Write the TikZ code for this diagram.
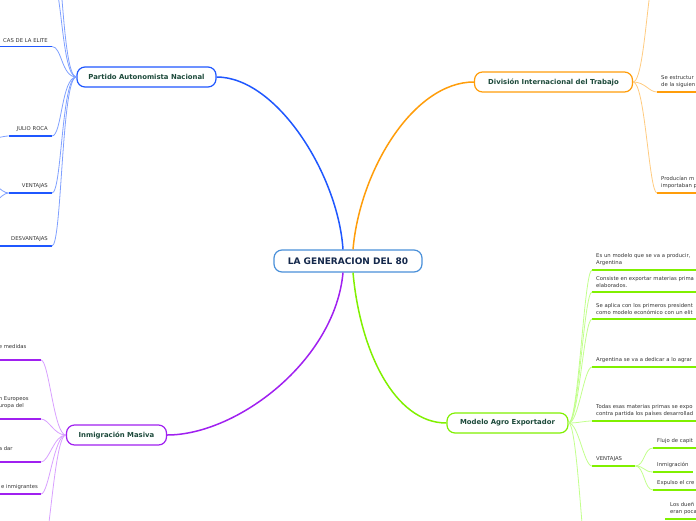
\documentclass[tikz,border=0pt]{standalone}
\usepackage{fontspec}
\setmainfont{DejaVu Sans}
\usepackage{xcolor}
\usepackage{tikz}
\usetikzlibrary{calc}

\definecolor{rootline}{HTML}{4A90D9}
\definecolor{roottext}{HTML}{14284B}
\definecolor{topictext}{HTML}{1D4A3B}
\definecolor{leaftext}{HTML}{333333}
\definecolor{pan}{HTML}{1F57FF}
\definecolor{panlight}{HTML}{7FA0FF}
\definecolor{dit}{HTML}{FF9D0A}
\definecolor{ditlight}{HTML}{FFCB80}
\definecolor{mae}{HTML}{80F000}
\definecolor{maelight}{HTML}{C2FF8C}
\definecolor{inm}{HTML}{A020F0}
\definecolor{inmlight}{HTML}{D8A0FF}

\begin{document}
\begin{tikzpicture}[
  x=1pt, y=-1pt,
  root/.style={draw=rootline, line width=1.2pt, rounded corners=8pt, fill=white,
    minimum width=148pt, minimum height=22pt, text=roottext,
    font=\fontsize{9}{11}\selectfont\bfseries},
  topic/.style={draw=#1, line width=1.2pt, rounded corners=8pt, fill=white,
    minimum height=20pt, text=topictext, font=\fontsize{6.9}{8}\selectfont\bfseries},
  leaf/.style={text=leaftext, font=\fontsize{5.3}{7}\selectfont,
    inner xsep=4pt, inner ysep=4pt, align=left,
    append after command={(\tikzlastnode.south west) edge[draw=#1, line width=1.8pt] (\tikzlastnode.south east)}},
  twig/.style={draw=#1, line width=0.8pt},
  trunk/.style={draw=#1, line width=1.5pt}
]
  \useasboundingbox (0,0) rectangle (696,520);
  \clip (0,0) rectangle (696,520);

  % ----- main topics -----
  \node[root] (gen) at (348,261) {LA GENERACION DEL 80};
  \node[topic=pan, minimum width=139pt] (pan) at (146.5,77) {Partido Autonomista Nacional};
  \node[topic=dit, minimum width=158pt] (dit) at (553.5,82) {División Internacional del Trabajo};
  \node[topic=mae, minimum width=121pt] (mae) at (507.5,423) {Modelo Agro Exportador};
  \node[topic=inm, minimum width=100pt] (inm) at (116.5,435) {Inmigración Masiva};

  % ----- root to topics -----
  \draw[trunk=pan] ([xshift=-5pt]gen.north) .. controls +(-5,-75) and +(60,0) .. (pan.east);
  \draw[trunk=dit] ([xshift=5pt]gen.north) .. controls +(7,-80) and +(-60,0) .. (dit.west);
  \draw[trunk=mae] ([xshift=5pt]gen.south) .. controls +(7,78) and +(-52,0) .. (mae.west);
  \draw[trunk=inm] ([xshift=-5pt]gen.south) .. controls +(-8,88) and +(70,0) .. (inm.east);

  % ----- Partido Autonomista Nacional -----
  \node[leaf=pan, anchor=south east, text width=50pt, align=right] (elite) at (52,46.5) {CAS DE LA ELITE};
  \node[leaf=pan, anchor=south east, text width=35pt, align=right] (roca) at (52,136) {JULIO ROCA};
  \node[leaf=pan, anchor=south east, text width=35pt, align=right] (ventL) at (52,193) {VENTAJAS};
  \node[leaf=pan, anchor=south east, text width=45pt, align=right] (desv) at (52,246) {DESVANTAJAS};
  \coordinate (panA) at (52,-20);
  \coordinate (panB) at (52,-70);
  \coordinate (rocaA) at (-15,140);
  \coordinate (ventA) at (-15,178);
  \coordinate (ventB) at (-15,210);
  \draw[twig=panlight] (pan.west) .. controls +(-15,0) and +(10,0) .. (panA);
  \draw[twig=panlight] (pan.west) .. controls +(-15,0) and +(10,0) .. (panB);
  \draw[twig=panlight] (pan.west) .. controls +(-15,0) and +(10,0) .. (elite.south east);
  \draw[twig=panlight] (pan.west) .. controls +(-15,0) and +(10,0) .. (roca.south east);
  \draw[twig=panlight] (pan.west) .. controls +(-15,0) and +(10,0) .. (ventL.south east);
  \draw[twig=panlight] (pan.west) .. controls +(-15,0) and +(10,0) .. (desv.south east);
  % sub-branches cut at the edge
  \draw[twig=panlight] (roca.south west) .. controls +(-6,0) and +(6,0) .. (rocaA);
  \draw[twig=panlight] (ventL.south west) .. controls +(-8,0) and +(6,0) .. (ventA);
  \draw[twig=panlight] (ventL.south west) .. controls +(-8,0) and +(6,0) .. (ventB);

  % ----- División Internacional del Trabajo -----
  \node[leaf=dit, anchor=south west, text width=60pt] (estruct) at (657,92) {Se estructur\\de la siguien};
  \node[leaf=dit, anchor=south west, text width=60pt] (produc) at (657,193) {Producían m\\importaban p};
  \coordinate (ditA) at (656,-30);
  \draw[twig=ditlight] (dit.east) .. controls +(12,0) and +(-8,0) .. (ditA);
  \draw[twig=ditlight] (dit.east) .. controls +(12,0) and +(-8,0) .. (estruct.south west);
  \draw[twig=ditlight] (dit.east) .. controls +(12,0) and +(-8,0) .. (produc.south west);

  % ----- Modelo Agro Exportador -----
  \node[leaf=mae, anchor=south west, text width=140pt] (gA) at (592,270) {Es un modelo que se va a producir,\\Argentina};
  \node[leaf=mae, anchor=south west, text width=140pt] (gB) at (592,292) {Consiste en exportar materias prima\\elaborados.};
  \node[leaf=mae, anchor=south west, text width=140pt] (gC) at (592,319) {Se aplica con los primeros president\\como modelo económico con un elit};
  \node[leaf=mae, anchor=south west, text width=140pt] (gD) at (592,367) {Argentina se va a dedicar a lo agrar};
  \node[leaf=mae, anchor=south west, text width=140pt] (gE) at (592,421) {Todas esas materias primas se expo\\contra partida los países desarrollad};
  \node[leaf=mae, anchor=south west, text width=35pt] (ventR) at (592,466) {VENTAJAS};
  \node[leaf=mae, anchor=south west, text width=80pt] (flujo) at (653,448) {Flujo de capit};
  \node[leaf=mae, anchor=south west] (inmR) at (653,472) {Inmigración};
  \node[leaf=mae, anchor=south west, text width=80pt] (expulso) at (653,490) {Expulso el cre};
  \node[leaf=mae, anchor=south west, inner xsep=5pt, text width=60pt] (duenos) at (665,519) {Los dueñ\\eran poca};
  \coordinate (maeA) at (592,600);
  \draw[twig=maelight] (mae.east) .. controls +(10,0) and +(-8,0) .. (gA.south west);
  \draw[twig=maelight] (mae.east) .. controls +(10,0) and +(-8,0) .. (gB.south west);
  \draw[twig=maelight] (mae.east) .. controls +(10,0) and +(-8,0) .. (gC.south west);
  \draw[twig=maelight] (mae.east) .. controls +(10,0) and +(-8,0) .. (gD.south west);
  \draw[twig=maelight] (mae.east) .. controls +(10,0) and +(-8,0) .. (gE.south west);
  \draw[twig=maelight] (mae.east) .. controls +(10,0) and +(-8,0) .. (ventR.south west);
  \draw[twig=maelight] (mae.east) .. controls +(10,0) and +(-8,0) .. (maeA);
  % from VENTAJAS
  \draw[twig=maelight] (ventR.south east) .. controls +(9,0) and +(-9,0) .. (flujo.south west);
  \draw[twig=maelight] (ventR.south east) .. controls +(9,0) and +(-9,0) .. (inmR.south west);
  \draw[twig=maelight] (ventR.south east) .. controls +(9,0) and +(-9,0) .. (expulso.south west);

  % ----- Inmigración Masiva -----
  \node[leaf=inm, anchor=south east, text width=38pt, inner ysep=11pt] (medidas) at (41,360) {e medidas};
  \node[leaf=inm, anchor=south east, text width=38pt, inner ysep=10pt] (europa) at (41,419) {n Europeos\\uropa del};
  \node[leaf=inm, anchor=south east, text width=38pt, inner ysep=11pt] (dar) at (41,462) {a dar};
  \node[leaf=inm, anchor=south east, inner xsep=3pt] (inmig) at (41,494) {e inmigrantes};
  \coordinate (inmA) at (41,560);
  \draw[twig=inmlight] (inm.west) .. controls +(-12,0) and +(8,0) .. (medidas.south east);
  \draw[twig=inmlight] (inm.west) .. controls +(-12,0) and +(8,0) .. (europa.south east);
  \draw[twig=inmlight] (inm.west) .. controls +(-12,0) and +(8,0) .. (dar.south east);
  \draw[twig=inmlight] (inm.west) .. controls +(-12,0) and +(8,0) .. (inmig.south east);
  \draw[twig=inmlight] (inm.west) .. controls +(-12,0) and +(8,0) .. (inmA);
\end{tikzpicture}
\end{document}
